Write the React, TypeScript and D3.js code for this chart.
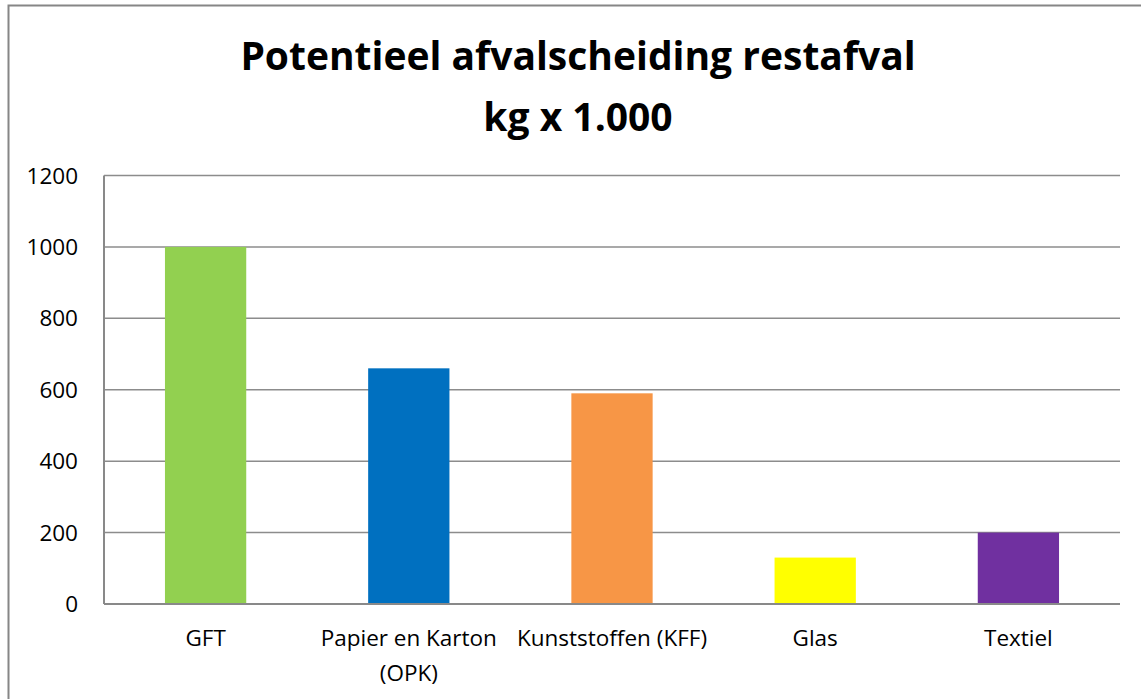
import React, { useEffect, useRef } from "react";
import { axisLeft, scaleBand, scaleLinear, select } from "d3";

const categories = ["GFT", "Papier en Karton (OPK)", "Kunststoffen (KFF)", "Glas", "Textiel"];
const labelLines = [["GFT"], ["Papier en Karton", "(OPK)"], ["Kunststoffen (KFF)"], ["Glas"], ["Textiel"]];
const values = [1000, 660, 590, 130, 200];
const colors = ["#92D050", "#0070C0", "#F79646", "#FFFF00", "#7030A0"];
const yTicks = [0, 200, 400, 600, 800, 1000, 1200];
const titleLines = ["Potentieel afvalscheiding restafval", "kg x 1.000"];

const W = 1141;
const H = 699;
const plot = { left: 104, right: 1120, top: 175.5, bottom: 604 };
const font = "'Open Sans', Lato, sans-serif";

function YAxis({ scale }) {
  const ref = useRef(null);

  useEffect(() => {
    if (ref.current) {
      const axis = axisLeft(scale)
        .tickValues(yTicks)
        .tickFormat((d) => String(d))
        .tickSize(0)
        .tickPadding(26);
      const g = select(ref.current).call(axis);
      g.selectAll(".domain").remove();
      g.selectAll("text")
        .attr("font-size", "22.5px")
        .attr("font-family", font)
        .attr("fill", "#000")
        .attr("dy", "0.34em");
    }
  }, [scale]);

  return <g ref={ref} transform={`translate(${plot.left}, 0)`} />;
}

export default function App() {
  const x = scaleBand()
    .domain(categories)
    .range([plot.left, plot.right])
    .paddingInner(0.6)
    .paddingOuter(0.3);

  const y = scaleLinear().domain([0, 1200]).range([plot.bottom, plot.top]);

  return (
    <svg
      width={W}
      height={H}
      style={{ position: "absolute", left: 0, top: 0, background: "#fff" }}
    >
      <rect x={8.5} y={5.5} width={W + 20} height={H + 20} fill="#fff" stroke="#868686" strokeWidth={2} />

      <g fontFamily={font} fontWeight={700} fontSize="39px" textAnchor="middle" fill="#000">
        {titleLines.map((t, i) => (
          <text key={t} x={578} y={70 + i * 61}>{t}</text>
        ))}
      </g>

      {yTicks.filter((t) => t > 0).map((t) => (
        <line key={t} x1={plot.left} x2={plot.right} y1={y(t)} y2={y(t)} stroke="#8c8c8c" strokeWidth={1.5} />
      ))}

      {categories.map((c, i) => (
        <rect
          key={c}
          x={x(c)}
          y={y(values[i])}
          width={x.bandwidth()}
          height={y(0) - y(values[i])}
          fill={colors[i]}
        />
      ))}

      <line x1={plot.left} x2={plot.left} y1={plot.top} y2={plot.bottom} stroke="#898989" strokeWidth={2} />
      <line x1={plot.left} x2={plot.right} y1={plot.bottom} y2={plot.bottom} stroke="#898989" strokeWidth={2} />

      <YAxis scale={y} />

      <g fontFamily={font} fontSize="22.5px" textAnchor="middle" fill="#000">
        {categories.map((c, i) => (
          <text key={c} x={x(c) + x.bandwidth() / 2} y={646}>
            {labelLines[i].map((l, j) => (
              <tspan key={l} x={x(c) + x.bandwidth() / 2} y={646 + j * 35}>{l}</tspan>
            ))}
          </text>
        ))}
      </g>
    </svg>
  );
}
